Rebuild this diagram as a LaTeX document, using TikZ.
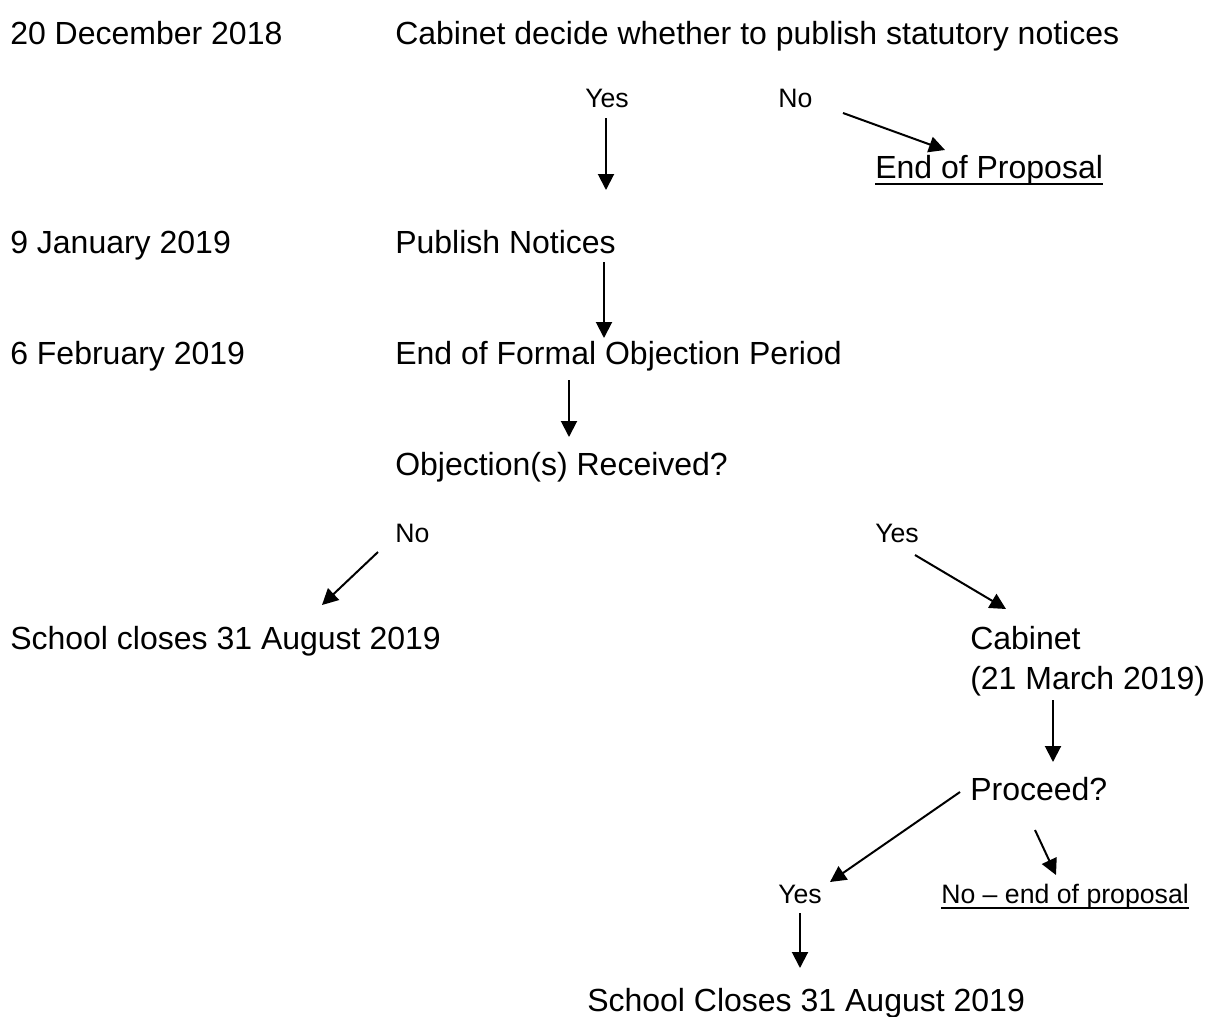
\documentclass[tikz,border=0pt]{standalone}
\usepackage{fontspec}
\setmainfont{Liberation Sans}
\usetikzlibrary{arrows.meta}
\begin{document}
\begin{tikzpicture}[x=0.75pt,y=-0.75pt,
  big/.style={anchor=base west,inner sep=0pt,font=\fontsize{24}{28}\selectfont},
  small/.style={anchor=base west,inner sep=0pt,font=\fontsize{20}{24}\selectfont},
  arr/.style={-{Triangle[length=12pt,width=12pt]},line width=1.5pt},
  uline/.style={line width=1.3pt}]
\useasboundingbox (0,0) rectangle (1208,1017);
% texts
\node[big] (d1) at (10,44) {20 December 2018};
\node[big] (cab1) at (395,44) {Cabinet decide whether to publish statutory notices};
\node[small] (yes1) at (585,107) {Yes};
\node[small] (no1) at (778,107) {No};
\node[big] (eop) at (875,178) {End of Proposal};
\node[big] (d2) at (10,253) {9 January 2019};
\node[big] (pub) at (395,253) {Publish Notices};
\node[big] (d3) at (10,364) {6 February 2019};
\node[big] (efop) at (395,364) {End of Formal Objection Period};
\node[big] (obj) at (395,475) {Objection(s) Received?};
\node[small] (no2) at (395,542) {No};
\node[small] (yes2) at (875,542) {Yes};
\node[big] (sc1) at (10,649) {School closes 31 August 2019};
\node[big] (cab2) at (970,649) {Cabinet};
\node[big] (cab2d) at (970,689) {(21 March 2019)};
\node[big] (proc) at (970,800) {Proceed?};
\node[small] (yes3) at (778,903) {Yes};
\node[small] (no3) at (941,903) {No – end of proposal};
\node[big] (sc2) at (587,1011) {School Closes 31 August 2019};
% underlines
\draw[uline] ([yshift=-4.5pt]eop.base west) -- ([yshift=-4.5pt]eop.base east);
\draw[uline] ([yshift=-4pt]no3.base west) -- ([yshift=-4pt]no3.base east);
% arrow end points
\coordinate (a1s) at (606,118); \coordinate (a1e) at (606,190);
\coordinate (a2s) at (843,113); \coordinate (a2e) at (945,150);
\coordinate (a3s) at (604,262); \coordinate (a3e) at (604,338);
\coordinate (a4s) at (569,380); \coordinate (a4e) at (569,437);
\coordinate (a5s) at (378,552); \coordinate (a5e) at (322,605);
\coordinate (a6s) at (915,555); \coordinate (a6e) at (1006,609);
\coordinate (a7s) at (1053,700); \coordinate (a7e) at (1053,762);
\coordinate (a8s) at (960,792); \coordinate (a8e) at (830,882);
\coordinate (a9s) at (1035,830); \coordinate (a9e) at (1056,875);
\coordinate (a10s) at (800,913); \coordinate (a10e) at (800,968);
\draw[arr] (a1s) -- (a1e);
\draw[arr] (a2s) -- (a2e);
\draw[arr] (a3s) -- (a3e);
\draw[arr] (a4s) -- (a4e);
\draw[arr] (a5s) -- (a5e);
\draw[arr] (a6s) -- (a6e);
\draw[arr] (a7s) -- (a7e);
\draw[arr] (a8s) -- (a8e);
\draw[arr] (a9s) -- (a9e);
\draw[arr] (a10s) -- (a10e);
\end{tikzpicture}
\end{document}
